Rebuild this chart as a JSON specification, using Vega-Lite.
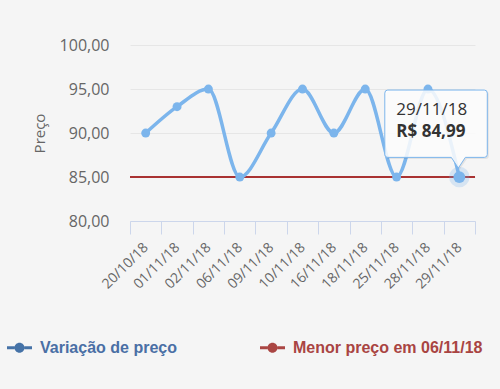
{
  "$schema": "https://vega.github.io/schema/vega-lite/v6.json",
  "width": 345,
  "height": 176,
  "autosize": {"type": "none"},
  "padding": {"left": 130, "top": 45, "right": 25, "bottom": 168},
  "background": "#f5f5f5",
  "config": {"view": {"stroke": null}, "font": "Open Sans"},
  "datasets": {
    "precos": [
      {"data": "20/10/18", "preco": 89.99, "serie": "Variação de preço"},
      {"data": "01/11/18", "preco": 92.99, "serie": "Variação de preço"},
      {"data": "02/11/18", "preco": 94.99, "serie": "Variação de preço"},
      {"data": "06/11/18", "preco": 84.99, "serie": "Variação de preço"},
      {"data": "09/11/18", "preco": 89.99, "serie": "Variação de preço"},
      {"data": "10/11/18", "preco": 94.99, "serie": "Variação de preço"},
      {"data": "16/11/18", "preco": 89.99, "serie": "Variação de preço"},
      {"data": "18/11/18", "preco": 94.99, "serie": "Variação de preço"},
      {"data": "25/11/18", "preco": 84.99, "serie": "Variação de preço"},
      {"data": "28/11/18", "preco": 94.99, "serie": "Variação de preço"},
      {"data": "29/11/18", "preco": 84.99, "serie": "Variação de preço"}
    ],
    "menor": [
      {"serie": "Menor preço em 06/11/18", "preco": 84.99}
    ],
    "dica": [
      {"data": "29/11/18", "preco": 84.99, "rotulo": "29/11/18", "valor": "R$ 84,99"}
    ]
  },
  "layer": [
    {
      "data": {"name": "menor"},
      "mark": {"type": "rule", "strokeWidth": 2},
      "encoding": {
        "y": {
          "field": "preco",
          "type": "quantitative",
          "scale": {"domain": [80, 100], "nice": false, "zero": false},
          "axis": {
            "values": [80, 85, 90, 95, 100],
            "labelExpr": "replace(format(datum.value, '.2f'), '.', ',')",
            "labelFontSize": 16,
            "labelColor": "#666666",
            "labelPadding": 21,
            "domain": false,
            "ticks": false,
            "gridColor": "#e6e6e6",
            "title": "Preço",
            "titleFontSize": 15,
            "titleFontWeight": "normal",
            "titleColor": "#666666",
            "titleX": -91,
            "titleY": 88,
            "titleAngle": -90,
            "titleAlign": "center",
            "titleBaseline": "middle"
          }
        },
        "color": {
          "field": "serie",
          "type": "nominal",
          "scale": {
            "domain": ["Variação de preço", "Menor preço em 06/11/18"],
            "range": ["#7cb5ec", "#a93232"]
          },
          "legend": {
            "orient": "none",
            "legendX": -123,
            "legendY": 290,
            "direction": "horizontal",
            "columns": 2,
            "columnPadding": 83,
            "title": null,
            "padding": 0,
            "symbolType": "M-1,-0.12L-0.4,-0.12L-0.4,0.12L-1,0.12Z M0.4,-0.12L1,-0.12L1,0.12L0.4,0.12Z M-0.4,0A0.4,0.4,0,1,1,0.4,0A0.4,0.4,0,1,1,-0.4,0Z",
            "symbolSize": 625,
            "symbolStrokeWidth": 0,
            "labelFont": "Liberation Sans",
            "labelFontSize": 16,
            "labelFontWeight": "bold",
            "labelOffset": 8,
            "labelLimit": 300,
            "encode": {
              "labels": {"update": {"fill": {"signal": "datum.value == 'Variação de preço' ? '#4a6fa5' : '#a94442'"}}},
              "symbols": {"update": {"fill": {"signal": "datum.value == 'Variação de preço' ? '#4572a7' : '#aa4643'"}, "stroke": {"value": "transparent"}, "opacity": {"value": 1}}}
            }
          }
        }
      }
    },
    {
      "data": {"name": "precos"},
      "mark": {"type": "line", "interpolate": "monotone", "strokeWidth": 3.5},
      "encoding": {
        "x": {
          "field": "data",
          "type": "ordinal",
          "sort": null,
          "scale": {"type": "band", "paddingInner": 0, "paddingOuter": 0},
          "axis": {
            "title": null,
            "labelAngle": -45,
            "labelAlign": "right",
            "labelBaseline": "middle",
            "labelFontSize": 14,
            "labelColor": "#666666",
            "labelPadding": 11,
            "tickBand": "extent",
            "tickSize": 13,
            "tickColor": "#ccd6eb",
            "domainColor": "#ccd6eb",
            "grid": false
          }
        },
        "y": {"field": "preco", "type": "quantitative"},
        "color": {"field": "serie", "type": "nominal"}
      }
    },
    {
      "data": {"name": "precos"},
      "mark": {"type": "point", "filled": true, "size": 80, "opacity": 1, "color": "#7cb5ec"},
      "encoding": {
        "x": {"field": "data", "type": "ordinal", "sort": null},
        "y": {"field": "preco", "type": "quantitative"}
      }
    },
    {
      "data": {"name": "dica"},
      "mark": {"type": "point", "filled": true, "size": 420, "opacity": 0.25, "color": "#7cb5ec"},
      "encoding": {
        "x": {"field": "data", "type": "ordinal", "sort": null},
        "y": {"field": "preco", "type": "quantitative"}
      }
    },
    {
      "data": {"name": "dica"},
      "mark": {"type": "point", "filled": true, "size": 140, "opacity": 1, "color": "#7cb5ec"},
      "encoding": {
        "x": {"field": "data", "type": "ordinal", "sort": null},
        "y": {"field": "preco", "type": "quantitative"}
      }
    },
    {
      "data": {"name": "dica"},
      "mark": {
        "type": "point",
        "filled": true,
        "size": 32400,
        "color": "#000000",
        "opacity": 0.07,
        "xOffset": 1.5,
        "yOffset": 1.5,
        "shape": "M-0.795,-0.967L0.278,-0.967Q0.311,-0.967,0.311,-0.933L0.311,-0.252Q0.311,-0.219,0.278,-0.219L0.067,-0.219L-0.011,-0.1L-0.089,-0.219L-0.795,-0.219Q-0.828,-0.219,-0.828,-0.252L-0.828,-0.933Q-0.828,-0.967,-0.795,-0.967Z"
      },
      "encoding": {
        "x": {"field": "data", "type": "ordinal", "sort": null},
        "y": {"field": "preco", "type": "quantitative"}
      }
    },
    {
      "data": {"name": "dica"},
      "mark": {
        "type": "point",
        "filled": false,
        "size": 32400,
        "fill": "#ffffff",
        "fillOpacity": 0.85,
        "stroke": "#7cb5ec",
        "strokeWidth": 1,
        "opacity": 1,
        "shape": "M-0.795,-0.967L0.278,-0.967Q0.311,-0.967,0.311,-0.933L0.311,-0.252Q0.311,-0.219,0.278,-0.219L0.067,-0.219L-0.011,-0.1L-0.089,-0.219L-0.795,-0.219Q-0.828,-0.219,-0.828,-0.252L-0.828,-0.933Q-0.828,-0.967,-0.795,-0.967Z"
      },
      "encoding": {
        "x": {"field": "data", "type": "ordinal", "sort": null},
        "y": {"field": "preco", "type": "quantitative"}
      }
    },
    {
      "data": {"name": "dica"},
      "mark": {"type": "text", "align": "left", "baseline": "alphabetic", "dx": -63, "dy": -62, "fontSize": 17, "color": "#333333", "font": "Open Sans"},
      "encoding": {
        "x": {"field": "data", "type": "ordinal", "sort": null},
        "y": {"field": "preco", "type": "quantitative"},
        "text": {"field": "rotulo"}
      }
    },
    {
      "data": {"name": "dica"},
      "mark": {"type": "text", "align": "left", "baseline": "alphabetic", "dx": -63, "dy": -40, "fontSize": 17, "fontWeight": "bold", "color": "#333333", "font": "Open Sans"},
      "encoding": {
        "x": {"field": "data", "type": "ordinal", "sort": null},
        "y": {"field": "preco", "type": "quantitative"},
        "text": {"field": "valor"}
      }
    }
  ]
}
